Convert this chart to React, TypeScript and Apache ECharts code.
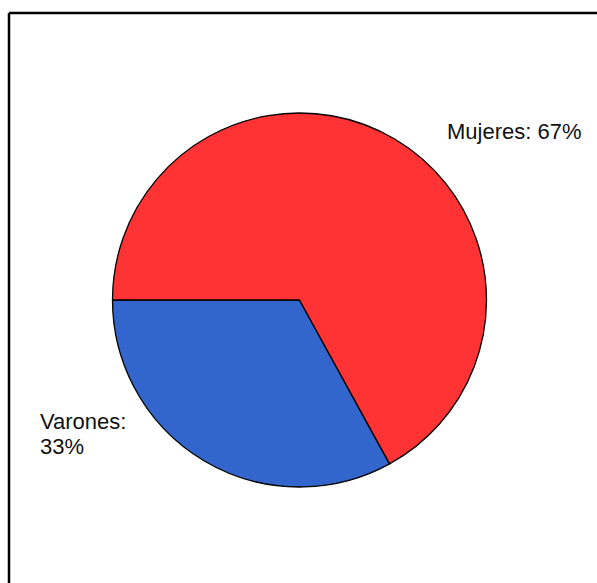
import React, { useEffect, useRef } from "react";
import * as echarts from "echarts";

const categories = ["Varones", "Mujeres"];
const values = [33, 67];
const colors = ["#3366CC", "#FF3333"];

export default function App() {
  const ref = useRef<HTMLDivElement>(null);
  useEffect(() => {
    if (!ref.current) return;
    const chart = echarts.init(ref.current, undefined, { renderer: "svg" });
    chart.setOption({
      animation: false,
      backgroundColor: "#ffffff",
      graphic: [
        {
          type: "line",
          shape: { x1: 9, y1: 13, x2: 600, y2: 13 },
          style: { stroke: "#000", lineWidth: 2.5 },
          z: 10,
        },
        {
          type: "line",
          shape: { x1: 9, y1: 13, x2: 9, y2: 590 },
          style: { stroke: "#000", lineWidth: 2.5 },
          z: 10,
        },
      ],
      series: [
        {
          type: "pie",
          center: [299.5, 300],
          radius: [0, 187],
          startAngle: 180,
          clockwise: false,
          silent: true,
          itemStyle: { borderColor: "#000", borderWidth: 1.3 },
          label: {
            show: true,
            position: "outside",
            fontFamily: "Liberation Sans, Arial, sans-serif",
            fontSize: 22,
            color: "#111",
            lineHeight: 25,
            formatter: (p: any) =>
              p.dataIndex === 0 ? `${p.name}:\n${p.value}%` : `${p.name}: ${p.value}%`,
          },
          labelLine: { show: false },
          labelLayout: (p: any) =>
            p.dataIndex === 0
              ? { x: 40, y: 434, align: "left", verticalAlign: "middle" }
              : { x: 447, y: 131, align: "left", verticalAlign: "middle" },
          data: categories.map((c, i) => ({
            name: c,
            value: values[i],
            itemStyle: { color: colors[i] },
          })),
        },
      ],
    });
    return () => chart.dispose();
  }, []);
  return (
    <div
      ref={ref}
      style={{ position: "fixed", left: 0, top: 0, width: 597, height: 583 }}
    />
  );
}
